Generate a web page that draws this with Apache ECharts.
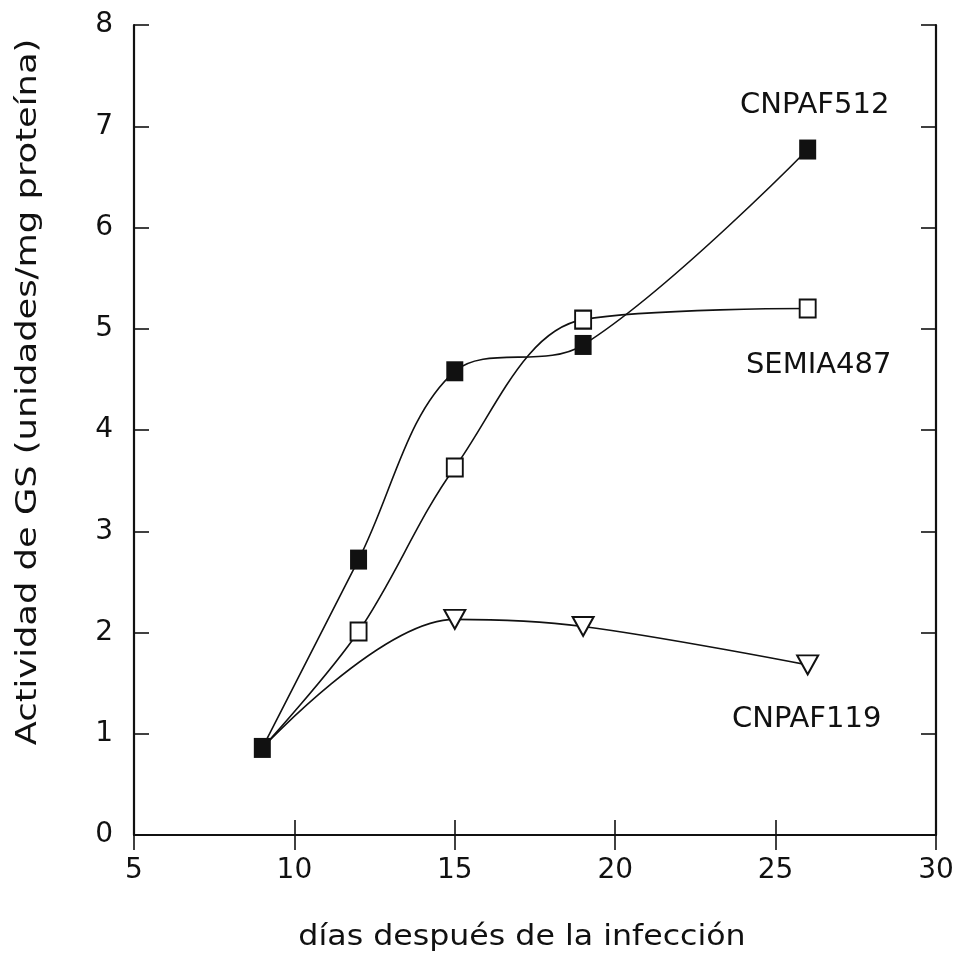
<!DOCTYPE html>
<html>
<head>
<meta charset="utf-8">
<script src="https://cdn.jsdelivr.net/npm/echarts@6/dist/echarts.min.js"></script>
<style>
  html, body { margin: 0; padding: 0; background: #fff; }
  #chart { width: 959px; height: 968px; }
</style>
</head>
<body>
<div id="chart"></div>
<script>
// Days after infection
const days = [9, 12, 15, 19, 26];

// GS activity (units / mg protein)
const cnpaf512 = [0.86, 2.72, 4.58, 4.84, 6.77];
const semia487 = [0.86, 2.01, 3.63, 5.09, 5.20];
const cnpaf119 = [0.86, null, 2.13, 2.06, 1.68];

const xTicks = [5, 10, 15, 20, 25, 30];
const yTicks = [0, 1, 2, 3, 4, 5, 6, 7, 8];

const xTitle = 'días después de la infección';
const yTitle = 'Actividad de GS (unidades/mg proteína)';

const FONT = '"DejaVu Sans", Verdana, sans-serif';
const INK = '#111';

function pairs(values, hideFirst) {
  const out = [];
  values.forEach((v, i) => {
    if (v === null) return;
    const item = { value: [days[i], v] };
    if (hideFirst && i === 0) item.symbol = 'none';
    out.push(item);
  });
  return out;
}

function withEndLabel(data, text, position, distance, dx) {
  const last = data[data.length - 1];
  last.label = {
    show: true, position: position, distance: distance, offset: [dx, 0],
    formatter: text, color: INK, fontFamily: FONT, fontSize: 29
  };
  return data;
}

const axisLine = { show: true, lineStyle: { color: INK, width: 2.2 } };
const innerTick = { show: true, inside: true, length: 15, lineStyle: { color: INK, width: 1.6 } };

const chart = echarts.init(document.getElementById('chart'), null, { renderer: 'canvas' });

chart.setOption({
  backgroundColor: '#fff',
  animation: false,
  grid: { left: 134, right: 23, top: 25, bottom: 133 },
  xAxis: [
    {
      type: 'value', min: xTicks[0], max: xTicks[xTicks.length - 1], interval: 5,
      position: 'bottom',
      axisLine: axisLine, axisTick: innerTick,
      axisLabel: { color: INK, fontFamily: FONT, fontSize: 28, margin: 22 },
      splitLine: { show: false }
    },
    {
      type: 'value', min: xTicks[0], max: xTicks[xTicks.length - 1], interval: 5,
      position: 'top',
      axisLine: axisLine, axisTick: innerTick,
      axisLabel: { show: false }, splitLine: { show: false }
    }
  ],
  yAxis: [
    {
      type: 'value', min: yTicks[0], max: yTicks[yTicks.length - 1], interval: 1,
      position: 'left',
      axisLine: axisLine, axisTick: innerTick,
      axisLabel: { color: INK, fontFamily: FONT, fontSize: 28, margin: 21 },
      splitLine: { show: false }
    },
    {
      type: 'value', min: yTicks[0], max: yTicks[yTicks.length - 1], interval: 1,
      position: 'right',
      axisLine: axisLine, axisTick: innerTick,
      axisLabel: { show: false }, splitLine: { show: false }
    }
  ],
  // Axis titles, set in a widely spaced face
  graphic: [
    {
      type: 'text', x: 522, y: 938, scaleX: 1.13,
      style: { text: xTitle, fill: INK, fontFamily: FONT, fontSize: 28, align: 'center', verticalAlign: 'middle' }
    },
    {
      type: 'text', x: 29, y: 392, rotation: Math.PI / 2, scaleX: 1.26,
      style: { text: yTitle, fill: INK, fontFamily: FONT, fontSize: 28, align: 'center', verticalAlign: 'middle' }
    }
  ],
  series: [
    {
      name: 'CNPAF119', type: 'line', smooth: 0.35,
      data: withEndLabel(pairs(cnpaf119, true), 'CNPAF119', 'bottom', 30, -1),
      symbol: 'triangle', symbolRotate: 180, symbolSize: [21, 19],
      itemStyle: { color: '#fff', borderColor: INK, borderWidth: 2 },
      lineStyle: { color: INK, width: 1.6 },
      z: 2
    },
    {
      name: 'SEMIA487', type: 'line', smooth: 0.35,
      data: withEndLabel(pairs(semia487, true), 'SEMIA487', 'bottom', 32, 11),
      symbol: 'rect', symbolSize: [16, 18],
      itemStyle: { color: '#fff', borderColor: INK, borderWidth: 2 },
      lineStyle: { color: INK, width: 1.6 },
      z: 3
    },
    {
      name: 'CNPAF512', type: 'line', smooth: 0.35,
      data: withEndLabel(pairs(cnpaf512, false), 'CNPAF512', 'top', 20, 7),
      symbol: 'rect', symbolSize: [17, 20],
      itemStyle: { color: INK, borderColor: INK, borderWidth: 0 },
      lineStyle: { color: INK, width: 1.6 },
      z: 4
    }
  ]
});
</script>
</body>
</html>
